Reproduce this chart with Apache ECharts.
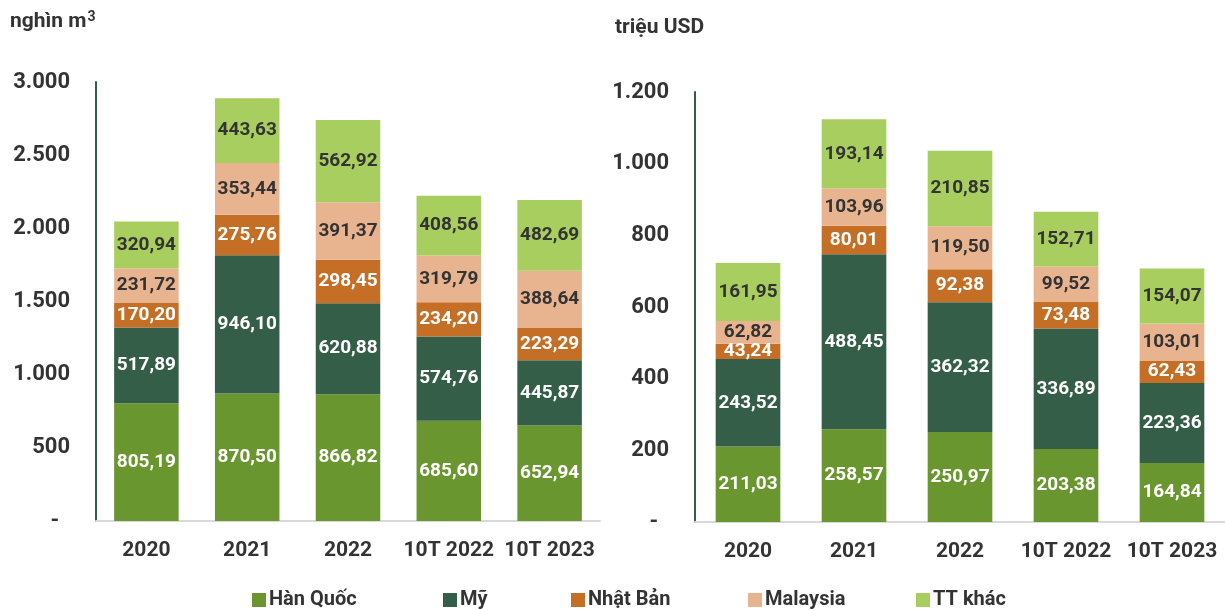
<!DOCTYPE html>
<html>
<head>
<meta charset="utf-8">
<script src="https://cdn.jsdelivr.net/npm/echarts@6/dist/echarts.min.js"></script>
<style>
  html, body { margin: 0; padding: 0; background: #fff; }
  #chart { width: 1225px; height: 610px; }
</style>
</head>
<body>
<div id="chart"></div>
<script>
// danh mục
var categories = ['2020', '2021', '2022', '10T 2022', '10T 2023'];
var seriesNames = ['Hàn Quốc', 'Mỹ', 'Nhật Bản', 'Malaysia', 'TT khác'];

// khối lượng - nghìn m3
var volHanQuoc = [805.19, 870.50, 866.82, 685.60, 652.94];
var volMy = [517.89, 946.10, 620.88, 574.76, 445.87];
var volNhatBan = [170.20, 275.76, 298.45, 234.20, 223.29];
var volMalaysia = [231.72, 353.44, 391.37, 319.79, 388.64];
var volKhac = [320.94, 443.63, 562.92, 408.56, 482.69];

// giá trị - triệu USD
var valHanQuoc = [211.03, 258.57, 250.97, 203.38, 164.84];
var valMy = [243.52, 488.45, 362.32, 336.89, 223.36];
var valNhatBan = [43.24, 80.01, 92.38, 73.48, 62.43];
var valMalaysia = [62.82, 103.96, 119.50, 99.52, 103.01];
var valKhac = [161.95, 193.14, 210.85, 152.71, 154.07];

var colors = ['#6a9630', '#345e48', '#c46f25', '#e8b48f', '#a9ce60'];
var labelColors = ['#fff', '#fff', '#fff', '#333', '#333'];
var font = "Roboto, 'Liberation Sans', sans-serif";

var chart = echarts.init(document.getElementById('chart'));

function fmtNum(v) {
  return v.toFixed(2).replace('.', ',');
}
function fmtAxis(v) {
  if (v === 0) return '-\u00a0\u00a0';
  return String(v).replace(/\B(?=(\d{3})+(?!\d))/g, '.');
}

function makeSeries(dataList, idx) {
  return dataList.map(function (d, i) {
    return {
      name: seriesNames[i],
      type: 'bar',
      stack: 's' + idx,
      xAxisIndex: idx,
      yAxisIndex: idx,
      barWidth: idx === 0 ? '64%' : '61%',
      data: d,
      itemStyle: { color: colors[i] },
      label: {
        show: true,
        color: labelColors[i],
        fontSize: 19,
        fontWeight: 'bold',
        fontFamily: font,
        formatter: function (p) { return fmtNum(p.value); }
      }
    };
  });
}

var series = makeSeries([volHanQuoc, volMy, volNhatBan, volMalaysia, volKhac], 0)
  .concat(makeSeries([valHanQuoc, valMy, valNhatBan, valMalaysia, valKhac], 1));

var legendLeft = [247, 438, 566, 743, 911];
var legends = seriesNames.map(function (n, i) {
  return {
    data: [n],
    left: legendLeft[i],
    top: 585,
    itemWidth: 14,
    itemHeight: 14,
    itemGap: 0,
    icon: 'rect',
    textStyle: { fontSize: 20, fontWeight: 'bold', color: '#333', fontFamily: font, padding: [0, 0, 0, -2] }
  };
});

function xAxisCfg(idx) {
  return {
    type: 'category',
    gridIndex: idx,
    data: categories,
    axisLine: { lineStyle: { color: '#d9d9d9', width: 2 } },
    axisTick: { show: false },
    axisLabel: { interval: 0, color: '#333', fontSize: 21, fontWeight: 'bold', fontFamily: font, margin: 19 }
  };
}
function yAxisCfg(idx, max, interval) {
  return {
    type: 'value',
    gridIndex: idx,
    min: 0,
    max: max,
    interval: interval,
    splitLine: { show: false },
    axisTick: { show: false },
    axisLine: { show: true, lineStyle: { color: '#345e48', width: 2 } },
    axisLabel: { color: '#333', fontSize: 22, fontWeight: 'bold', fontFamily: font, margin: 26, formatter: fmtAxis }
  };
}

chart.setOption({
  animation: false,
  title: [
    {
      text: '{a|nghìn m}{b|3}', left: 5, top: 5,
      textStyle: {
        rich: {
          a: { fontSize: 21, fontWeight: 'bold', color: '#333', fontFamily: font },
          b: { fontSize: 14, fontWeight: 'bold', color: '#333', fontFamily: font, padding: [0, 0, 10, 1] }
        }
      }
    },
    { text: 'triệu USD', left: 610, top: 12, textStyle: { fontSize: 21, fontWeight: 'bold', color: '#333', fontFamily: font } }
  ],
  legend: legends,
  grid: [
    { left: 96, right: 625, top: 82, bottom: 89 },
    { left: 695, right: 0, top: 92, bottom: 88 }
  ],
  xAxis: [xAxisCfg(0), xAxisCfg(1)],
  yAxis: [yAxisCfg(0, 3000, 500), yAxisCfg(1, 1200, 200)],
  series: series
});
</script>
</body>
</html>
